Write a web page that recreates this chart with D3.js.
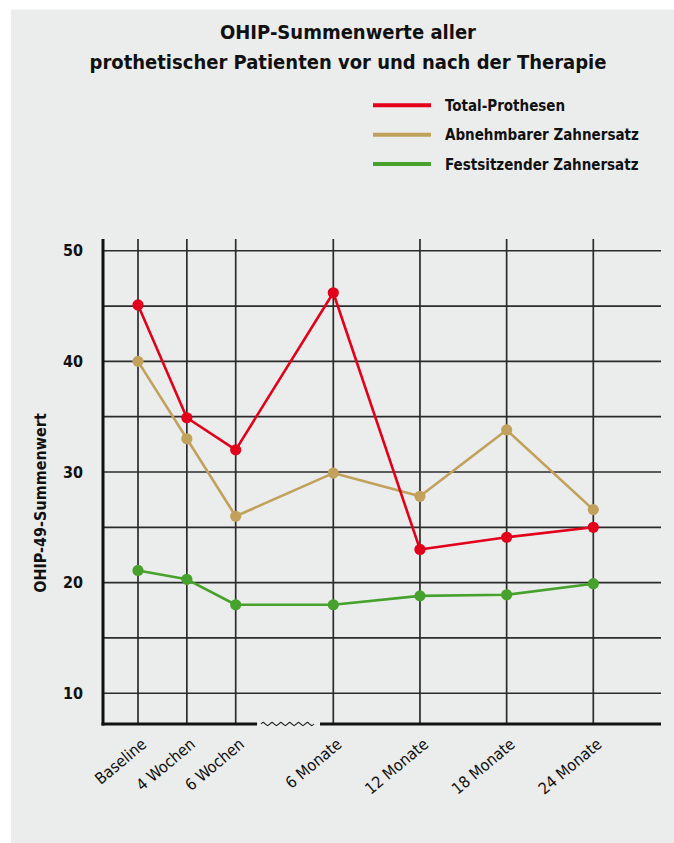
<!DOCTYPE html>
<html>
<head>
<meta charset="utf-8">
<script src="https://cdn.jsdelivr.net/npm/d3@7"></script>
<style>
  body { margin: 0; background: #ffffff; }
  svg { display: block; }
  text { font-family: "DejaVu Sans Condensed", "DejaVu Sans", sans-serif; font-stretch: condensed; fill: #111; }
</style>
</head>
<body>
<svg id="chart" width="674" height="843"></svg>
<script>
// Measurement points: three early visits (weeks), then the follow-ups (months)
const categories = ["Baseline", "4 Wochen", "6 Wochen", "6 Monate", "12 Monate", "18 Monate", "24 Monate"];
const earlyCategories = categories.slice(0, 3);
const lateCategories = categories.slice(3);

// OHIP-49 sum scores per group
const totalProthesen = [45.1, 34.9, 32.0, 46.2, 23.0, 24.1, 25.0];
const abnehmbarerZahnersatz = [40.0, 33.0, 26.0, 29.9, 27.8, 33.8, 26.6];
const festsitzenderZahnersatz = [21.1, 20.3, 18.0, 18.0, 18.8, 18.9, 19.9];

const seriesNames = ["Total-Prothesen", "Abnehmbarer Zahnersatz", "Festsitzender Zahnersatz"];
const seriesColors = ["#e2001a", "#c1a15b", "#47a22d"];

const yTickValues = [10, 20, 30, 40, 50];
const yGridValues = [10, 15, 20, 25, 30, 35, 40, 45, 50];

const titleLines = ["OHIP-Summenwerte aller", "prothetischer Patienten vor und nach der Therapie"];
const yAxisTitle = "OHIP-49-Summenwert";

const svg = d3.select("#chart");

// panel background
svg.append("rect")
  .attr("x", 11).attr("y", 9.5)
  .attr("width", 663).attr("height", 834)
  .attr("fill", "#ebedec");

// plot frame
const plot = { left: 103, right: 661, top: 239, bottom: 724 };

const y = d3.scaleLinear().domain([7.22, 51.06]).range([plot.bottom, plot.top]);

// broken time axis: weeks segment and months segment
const xEarly = d3.scalePoint().domain(earlyCategories).range([138, 235.7]);
const xLate = d3.scalePoint().domain(lateCategories).range([333.3, 593.3]);
const x = c => earlyCategories.includes(c) ? xEarly(c) : xLate(c);

// horizontal grid
svg.append("g").selectAll("line").data(yGridValues).join("line")
  .attr("x1", plot.left).attr("x2", plot.right)
  .attr("y1", d => y(d)).attr("y2", d => y(d))
  .attr("stroke", "#2b2b2b").attr("stroke-width", 1.7);

// vertical grid at every measurement point
svg.append("g").selectAll("line").data(categories).join("line")
  .attr("x1", d => x(d)).attr("x2", d => x(d))
  .attr("y1", plot.top).attr("y2", plot.bottom)
  .attr("stroke", "#2b2b2b").attr("stroke-width", 1.7);

// y axis
const yAxis = svg.append("g")
  .attr("transform", `translate(${plot.left},0)`)
  .call(d3.axisLeft(y).tickValues(yTickValues).tickSize(0).tickSizeOuter(0).tickPadding(20));
yAxis.select(".domain").attr("stroke", "#111").attr("stroke-width", 3)
  .attr("d", `M0,${plot.top}V${plot.bottom + 1.5}`);
yAxis.selectAll("text")
  .attr("font-size", 16).attr("font-weight", "bold")
  .style("font-family", '"DejaVu Sans Condensed", "DejaVu Sans", sans-serif');

// y axis title
svg.append("text")
  .attr("transform", `translate(46,503) rotate(-90)`)
  .attr("text-anchor", "middle")
  .attr("font-size", 16).attr("font-weight", "bold")
  .text(yAxisTitle);

// x axis: two solid segments with a wavy break between them
const axisY = plot.bottom;
svg.append("line")
  .attr("x1", plot.left - 1.5).attr("x2", 257)
  .attr("y1", axisY).attr("y2", axisY)
  .attr("stroke", "#111").attr("stroke-width", 3);
svg.append("line")
  .attr("x1", 320).attr("x2", plot.right)
  .attr("y1", axisY).attr("y2", axisY)
  .attr("stroke", "#111").attr("stroke-width", 3);

const wave = d3.range(0, 25).map(i => [261 + i * (53 / 24), axisY + (i % 4 === 1 ? -1.6 : i % 4 === 3 ? 1.6 : 0)]);
svg.append("path")
  .attr("d", d3.line().curve(d3.curveCardinal)(wave))
  .attr("fill", "none").attr("stroke", "#222").attr("stroke-width", 1.1);

// category labels via the two axis scales
[xEarly, xLate].forEach(scale => {
  const g = svg.append("g")
    .attr("transform", `translate(0,${axisY})`)
    .call(d3.axisBottom(scale).tickSize(0).tickSizeOuter(0));
  g.select(".domain").remove();
  g.selectAll("text")
    .attr("x", 0).attr("y", 0).attr("dy", 0)
    .attr("text-anchor", "end")
    .attr("transform", "translate(9,22) rotate(-40)")
    .attr("font-size", 16)
    .style("font-family", '"DejaVu Sans Condensed", "DejaVu Sans", sans-serif')
    .style("fill", "#111");
});

// series lines and markers
const series = [totalProthesen, abnehmbarerZahnersatz, festsitzenderZahnersatz].map((vals, i) => ({
  name: seriesNames[i],
  color: seriesColors[i],
  points: vals.map((v, j) => ({ cat: categories[j], value: v }))
}));

const line = d3.line().x(d => x(d.cat)).y(d => y(d.value));

const drawOrder = [2, 1, 0];
drawOrder.forEach(i => {
  const s = series[i];
  svg.append("path")
    .attr("d", line(s.points))
    .attr("fill", "none")
    .attr("stroke", s.color)
    .attr("stroke-width", 2.6)
    .attr("stroke-linejoin", "round");
  svg.append("g").selectAll("circle").data(s.points).join("circle")
    .attr("cx", d => x(d.cat)).attr("cy", d => y(d.value))
    .attr("r", 5.6)
    .attr("fill", s.color);
});

// title
svg.append("g").selectAll("text").data(titleLines).join("text")
  .attr("x", 348).attr("y", (d, i) => 39 + i * 29.5)
  .attr("text-anchor", "middle")
  .attr("font-size", 20).attr("font-weight", "bold")
  .text(d => d);

// legend
const legend = svg.append("g").selectAll("g").data(series).join("g")
  .attr("transform", (d, i) => `translate(373,${105.3 + i * 29.4})`);
legend.append("line")
  .attr("x1", 0).attr("x2", 58)
  .attr("stroke", d => d.color).attr("stroke-width", 4);
legend.append("text")
  .attr("x", 72).attr("dy", "0.36em")
  .attr("font-size", 15).attr("font-weight", "bold")
  .text(d => d.name);
</script>
</body>
</html>
